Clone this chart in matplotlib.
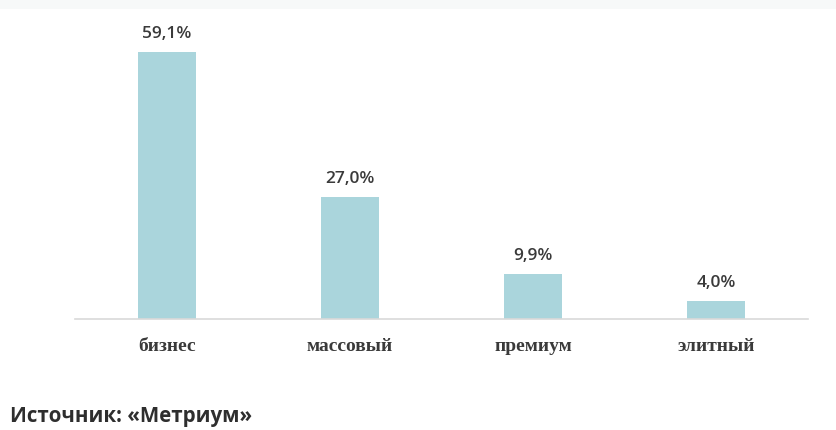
import matplotlib.pyplot as plt
from matplotlib.patches import Rectangle

categories = ['бизнес', 'массовый', 'премиум', 'элитный']
shares = [59.1, 27.0, 9.9, 4.0]
labels = ['59,1%', '27,0%', '9,9%', '4,0%']
source = 'Источник: «Метриум»'

W, H = 836, 431
fig = plt.figure(figsize=(W / 100, H / 100), dpi=100)
fig.patch.set_facecolor('white')

# thin light strip at the very top
fig.patches.append(Rectangle((0, 1 - 10 / H), 1, 10 / H, transform=fig.transFigure,
                             facecolor='#f7f9f9', edgecolor='none', zorder=0))

# axes: baseline at y=320px, x from 75 to 808 px
ax = fig.add_axes([75 / W, (H - 320) / H, 733 / W, 300 / H])
ax.set_facecolor('none')
x = list(range(len(categories)))
ax.bar(x, shares, width=0.317, color='#aad5dc', zorder=2)
ax.set_xlim(-0.5, len(categories) - 0.5)
ax.set_ylim(0, 59.1 * 300 / 267)

for xi, v, lab in zip(x, shares, labels):
    ax.annotate(lab, (xi, v), xytext=(0, 8), textcoords='offset points',
                ha='center', va='bottom', fontsize=12.5, fontweight='semibold',
                family='Open Sans', color='#3a3a3a')

for s in ['top', 'right', 'left']:
    ax.spines[s].set_visible(False)
ax.spines['bottom'].set_color('#d9d9d9')
ax.spines['bottom'].set_linewidth(1.2)
ax.set_yticks([])
ax.set_xticks(x)
ax.set_xticklabels(categories, family='Liberation Serif', fontweight='bold',
                   fontsize=14, color='#3a3a3a')
ax.tick_params(axis='x', length=0, pad=13)

fig.text(10 / W, 1 - 417 / H, source, ha='left', va='center', fontsize=14.8,
         fontweight='bold', family='Open Sans', color='#2e2e2e')

fig.savefig('out.png', dpi=100, facecolor='white')
